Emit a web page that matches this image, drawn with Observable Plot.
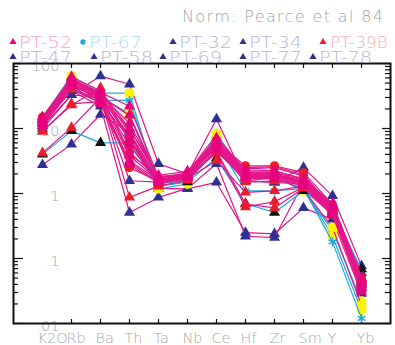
<!DOCTYPE html>
<html>
<head>
<meta charset="utf-8">
<script src="https://cdn.jsdelivr.net/npm/d3@7"></script>
<script src="https://cdn.jsdelivr.net/npm/@observablehq/plot@0.6"></script>
<style>
  html, body { margin: 0; padding: 0; background: #fff; }
  #wrap { position: relative; width: 395px; height: 345px; }
  #wrap svg { position: absolute; left: 0; top: 0; }
</style>
</head>
<body>
<div id="wrap"></div>
<script>
// ---- categories and ticks ----
const elements = ["K2O","Rb","Ba","Th","Ta","Nb","Ce","Hf","Zr","Sm","Y","Yb"];
const yTickValues = [0.01, 0.1, 1, 10, 100];
const yTickLabels = [".01", ".1", "1", "10", "100"];
const titleText = "Norm: Pearce et al 84";

// ---- series values (K2O, Rb, Ba, Th, Ta, Nb, Ce, Hf, Zr, Sm, Y, Yb) ----
// navy-triangle samples
const pt32 = [10.9, 33, 64, 48, 2.87, 2.0, 14, 1.57, 1.48, 2.5, 0.92, 0.077];
const pt34 = [2.76, 5.7, 16.4, 8.7, 1.2, 1.18, 1.48, 0.25, 0.24, 0.6, 0.40, 0.029];
const pt47 = [10, 33, 30, 1.57, 1.5, 1.9, 5.0, 1.57, 1.48, 1.4, 0.62, 0.05];
const pt58 = [12, 38, 22, 0.51, 0.87, 1.2, 2.87, 0.22, 0.21, 1.45, 0.48, 0.04];
const pt69 = [13, 45, 30, 10, 1.7, 2.0, 6.0, 1.8, 1.8, 1.5, 0.5, 0.035];
const pt77 = [14, 44, 36, 8.7, 1.6, 2.1, 8.0, 2.0, 1.9, 1.6, 0.65, 0.06];
const pt78 = [11, 40, 25, 3.0, 1.5, 1.7, 4.5, 1.6, 1.7, 1.35, 0.55, 0.045];
// yellow-circle samples
const yA = [14.6, 65, 35, 35, 1.18, 1.4, 8.3, 1.9, 1.8, 1.1, 0.27, 0.022];
const yB = [14, 60, 30, 17, 1.3, 1.55, 7.0, 1.7, 1.7, 1.2, 0.22, 0.016];
const yC = [13, 58, 32, 15.7, 1.5, 1.6, 6.5, 1.8, 1.75, 1.15, 0.30, 0.019];
// cyan-star sample
const pt67 = [12, 42, 27, 27, 1.4, 1.6, 6.0, 1.1, 1.1, 1.2, 0.18, 0.012];
// black-triangle sample
const kA = [4.0, 9.2, 6.0, 6.0, 1.3, 1.5, 3.5, 0.7, 0.51, 1.1, 0.5, 0.069];
// red-triangle samples
const pt39B = [9.2, 23, 42, 6.5, 1.4, 1.7, 3.2, 1.04, 1.1, 1.3, 0.52, 0.042];
const rB = [4.2, 10.3, 30, 0.87, 1.3, 1.6, 4.5, 0.69, 0.6, 1.2, 0.46, 0.036];
const rC = [9.0, 24, 26, 7.0, 1.5, 1.8, 4.2, 0.62, 0.75, 1.25, 0.5, 0.05];
const rD = [12, 40, 28, 3.8, 1.6, 1.9, 5.0, 1.5, 1.55, 1.4, 0.55, 0.046];
// red-circle samples
const cA = [15, 56, 34, 4.3, 1.7, 2.0, 6.0, 2.67, 2.67, 2.1, 0.68, 0.052];
const cB = [14, 50, 30, 2.5, 1.55, 1.9, 5.2, 2.5, 2.6, 1.95, 0.6, 0.045];
const cC = [14.6, 52, 32, 7.0, 1.6, 1.95, 5.8, 2.4, 2.5, 1.85, 0.57, 0.04];
// magenta-triangle samples
const pt52 = [14, 56, 36, 22, 1.8, 2.0, 6.5, 2.1, 2.1, 1.6, 0.62, 0.045];
const mA = [13, 52, 33, 12, 1.7, 2.0, 6.0, 2.0, 2.0, 1.5, 0.58, 0.042];
const mB = [15, 58, 30, 8, 1.6, 1.9, 5.6, 1.9, 1.95, 1.45, 0.55, 0.04];
const mC = [12, 48, 28, 5.5, 1.5, 1.8, 5.2, 1.8, 1.85, 1.4, 0.52, 0.037];
const mD = [14, 60, 34, 4, 1.9, 2.2, 6.8, 2.2, 2.2, 1.7, 0.70, 0.05];
const mE = [13, 50, 26, 3.2, 1.6, 1.9, 5.0, 1.75, 1.8, 1.35, 0.5, 0.034];
const mF = [11, 45, 31, 16, 1.7, 2.1, 6.2, 2.05, 2.05, 1.55, 0.6, 0.043];
const mG = [15, 62, 38, 10, 1.8, 2.0, 7.2, 2.3, 2.25, 1.65, 0.66, 0.048];
const mH = [12, 46, 24, 2.8, 1.45, 1.75, 4.6, 1.7, 1.7, 1.3, 0.47, 0.031];
const mI = [14, 54, 35, 6.5, 1.55, 1.85, 5.4, 1.85, 1.9, 1.45, 0.56, 0.039];

// ---- colours ----
const MAG = "#e4168a", CYAN = "#1ea9e1", NAVY = "#2e3192", RED = "#ec1c2a",
      YEL = "#fff200", BLK = "#111111", PINK = "#e6007e";

const series = [
  {v: pt32, sym: "triangle", fill: NAVY, line: MAG},
  {v: pt34, sym: "triangle", fill: NAVY, line: MAG},
  {v: pt47, sym: "triangle", fill: NAVY, line: MAG},
  {v: pt58, sym: "triangle", fill: NAVY, line: MAG},
  {v: pt69, sym: "triangle", fill: NAVY, line: MAG},
  {v: pt77, sym: "triangle", fill: NAVY, line: MAG},
  {v: pt78, sym: "triangle", fill: NAVY, line: MAG},
  {v: yA, sym: "circle", fill: YEL, line: CYAN},
  {v: yB, sym: "circle", fill: YEL, line: CYAN},
  {v: yC, sym: "circle", fill: YEL, line: MAG},
  {v: pt67, sym: "asterisk", fill: CYAN, line: CYAN},
  {v: kA, sym: "triangle", fill: BLK, line: CYAN},
  {v: pt39B, sym: "triangle", fill: RED, line: MAG},
  {v: rB, sym: "triangle", fill: RED, line: MAG},
  {v: rC, sym: "triangle", fill: RED, line: MAG},
  {v: rD, sym: "triangle", fill: RED, line: MAG},
  {v: cA, sym: "circle", fill: RED, line: MAG},
  {v: cB, sym: "circle", fill: RED, line: MAG},
  {v: cC, sym: "circle", fill: RED, line: MAG},
  {v: pt52, sym: "triangle", fill: PINK, line: MAG},
  {v: mA, sym: "triangle", fill: PINK, line: MAG},
  {v: mB, sym: "triangle", fill: PINK, line: MAG},
  {v: mC, sym: "triangle", fill: PINK, line: MAG},
  {v: mD, sym: "triangle", fill: PINK, line: MAG},
  {v: mE, sym: "triangle", fill: PINK, line: MAG},
  {v: mF, sym: "triangle", fill: PINK, line: MAG},
  {v: mG, sym: "triangle", fill: PINK, line: MAG},
  {v: mH, sym: "triangle", fill: PINK, line: MAG},
  {v: mI, sym: "triangle", fill: PINK, line: MAG}
];

// legend entries
const legendNames = ["PT-52","PT-67","PT-32","PT-34","PT-39B","PT-47","PT-58","PT-69","PT-77","PT-78"];
const legendSyms  = ["triangle","asterisk","triangle","triangle","triangle","triangle","triangle","triangle","triangle","triangle"];
const legendFills = [PINK, CYAN, NAVY, NAVY, RED, NAVY, NAVY, NAVY, NAVY, NAVY];
const legendText  = ["#f5a3cc","#a9def5","#b6b6dc","#b6b6dc","#f8b0b6","#b6b6dc","#b6b6dc","#b6b6dc","#b6b6dc","#b6b6dc"];
const legendMarkX = [13, 83, 173, 243, 323, 13, 94, 163, 243, 313];
const legendTextX = [19, 89, 179, 249, 330, 19, 100, 169, 249, 319];
const legendRow   = [0,0,0,0,0,1,1,1,1,1];

// ---- build ----
const W = 395, H = 345, padL = 13, padR = 5, padT = 63, padB = 22;
const frameW = W - padL - padR, frameH = H - padT - padB;
const xTicks = d3.range(1, elements.length);
const minorTicks = [];
for (const d of [0.01, 0.1, 1, 10]) for (let k = 2; k <= 9; k++) minorTicks.push(d * k);

const marks = [
  Plot.tickX(xTicks, {x: d => d, insetTop: frameH - 4, stroke: "#111", strokeWidth: 1.2}),
  Plot.tickX(xTicks, {x: d => d, insetBottom: frameH - 5, stroke: "#111", strokeWidth: 1.2}),
  Plot.tickY(yTickValues, {y: d => d, insetRight: frameW - 10, stroke: "#111", strokeWidth: 1.2}),
  Plot.tickY(minorTicks, {y: d => d, insetRight: frameW - 5, stroke: "#111", strokeWidth: 1.2}),
  Plot.tickY(yTickValues, {y: d => d, insetLeft: frameW - 8, stroke: "#111", strokeWidth: 1.2}),
  Plot.tickY(minorTicks, {y: d => d, insetLeft: frameW - 5, stroke: "#111", strokeWidth: 1.2}),
  Plot.text(yTickValues, {y: d => d, text: (d, i) => yTickLabels[i], frameAnchor: "left", dx: 46, dy: 3,
    textAnchor: "end", fill: "#a8a8a8", fontSize: 14.5, fontFamily: "DejaVu Sans", fontWeight: 200}),
  Plot.text(elements, {x: (d, i) => i, text: d => d, frameAnchor: "bottom", dy: 14.5, dx: -5,
    textAnchor: "start", lineAnchor: "middle", fill: "#a8a8a8", fontSize: 14.5, fontFamily: "DejaVu Sans", fontWeight: 200})
];

for (const s of series) {
  const rows = elements.map((e, i) => ({i, v: s.v[i]}));
  marks.push(Plot.line(rows, {x: "i", y: "v", stroke: s.line, strokeWidth: 1.2}));
  if (s.sym === "asterisk") {
    marks.push(Plot.dot(rows, {x: "i", y: "v", symbol: "asterisk", r: 4.2, stroke: s.fill, strokeWidth: 1.5}));
  } else {
    marks.push(Plot.dot(rows, {x: "i", y: "v", symbol: s.sym, r: s.sym === "circle" ? (s.fill === YEL ? 5 : 4.5) : 4.1, fill: s.fill, stroke: "none"}));
  }
}
marks.push(Plot.frame({stroke: "#111", strokeWidth: 2}));

const chart = Plot.plot({
  width: W, height: H,
  marginLeft: padL, marginRight: padR, marginTop: padT, marginBottom: padB,
  style: {background: "#fff", overflow: "visible"},
  x: {type: "linear", domain: [-1, elements.length], axis: null},
  y: {type: "log", domain: [0.01, 100], axis: null},
  marks
});
const wrap = document.getElementById("wrap");
wrap.appendChild(chart);

// title + legend overlay
const ov = d3.select(wrap).append("svg").attr("width", W).attr("height", 70)
  .style("pointer-events", "none");
ov.append("text").attr("x", 383).attr("y", 22).attr("text-anchor", "end")
  .attr("font-family", "DejaVu Sans").attr("font-weight", 200).attr("font-size", 16)
  .attr("textLength", 201).attr("lengthAdjust", "spacing")
  .attr("fill", "#a3a3a3").text(titleText);
const rowBase = [48, 63];
legendNames.forEach((n, i) => {
  const yb = rowBase[legendRow[i]];
  const sym = legendSyms[i] === "asterisk" ? d3.symbolAsterisk : d3.symbolTriangle;
  const p = ov.append("path").attr("d", d3.symbol(sym, 22)())
    .attr("transform", `translate(${legendMarkX[i]},${yb - 6})`);
  if (legendSyms[i] === "asterisk") p.attr("fill", "none").attr("stroke", legendFills[i]).attr("stroke-width", 2);
  else p.attr("fill", legendFills[i]);
  ov.append("text").attr("x", legendTextX[i]).attr("y", yb)
    .attr("font-family", "DejaVu Sans").attr("font-weight", 200).attr("font-size", 15)
    .attr("textLength", n.length > 5 ? 58 : 53).attr("lengthAdjust", "spacingAndGlyphs")
    .attr("fill", legendText[i]).text(n);
});
</script>
</body>
</html>
